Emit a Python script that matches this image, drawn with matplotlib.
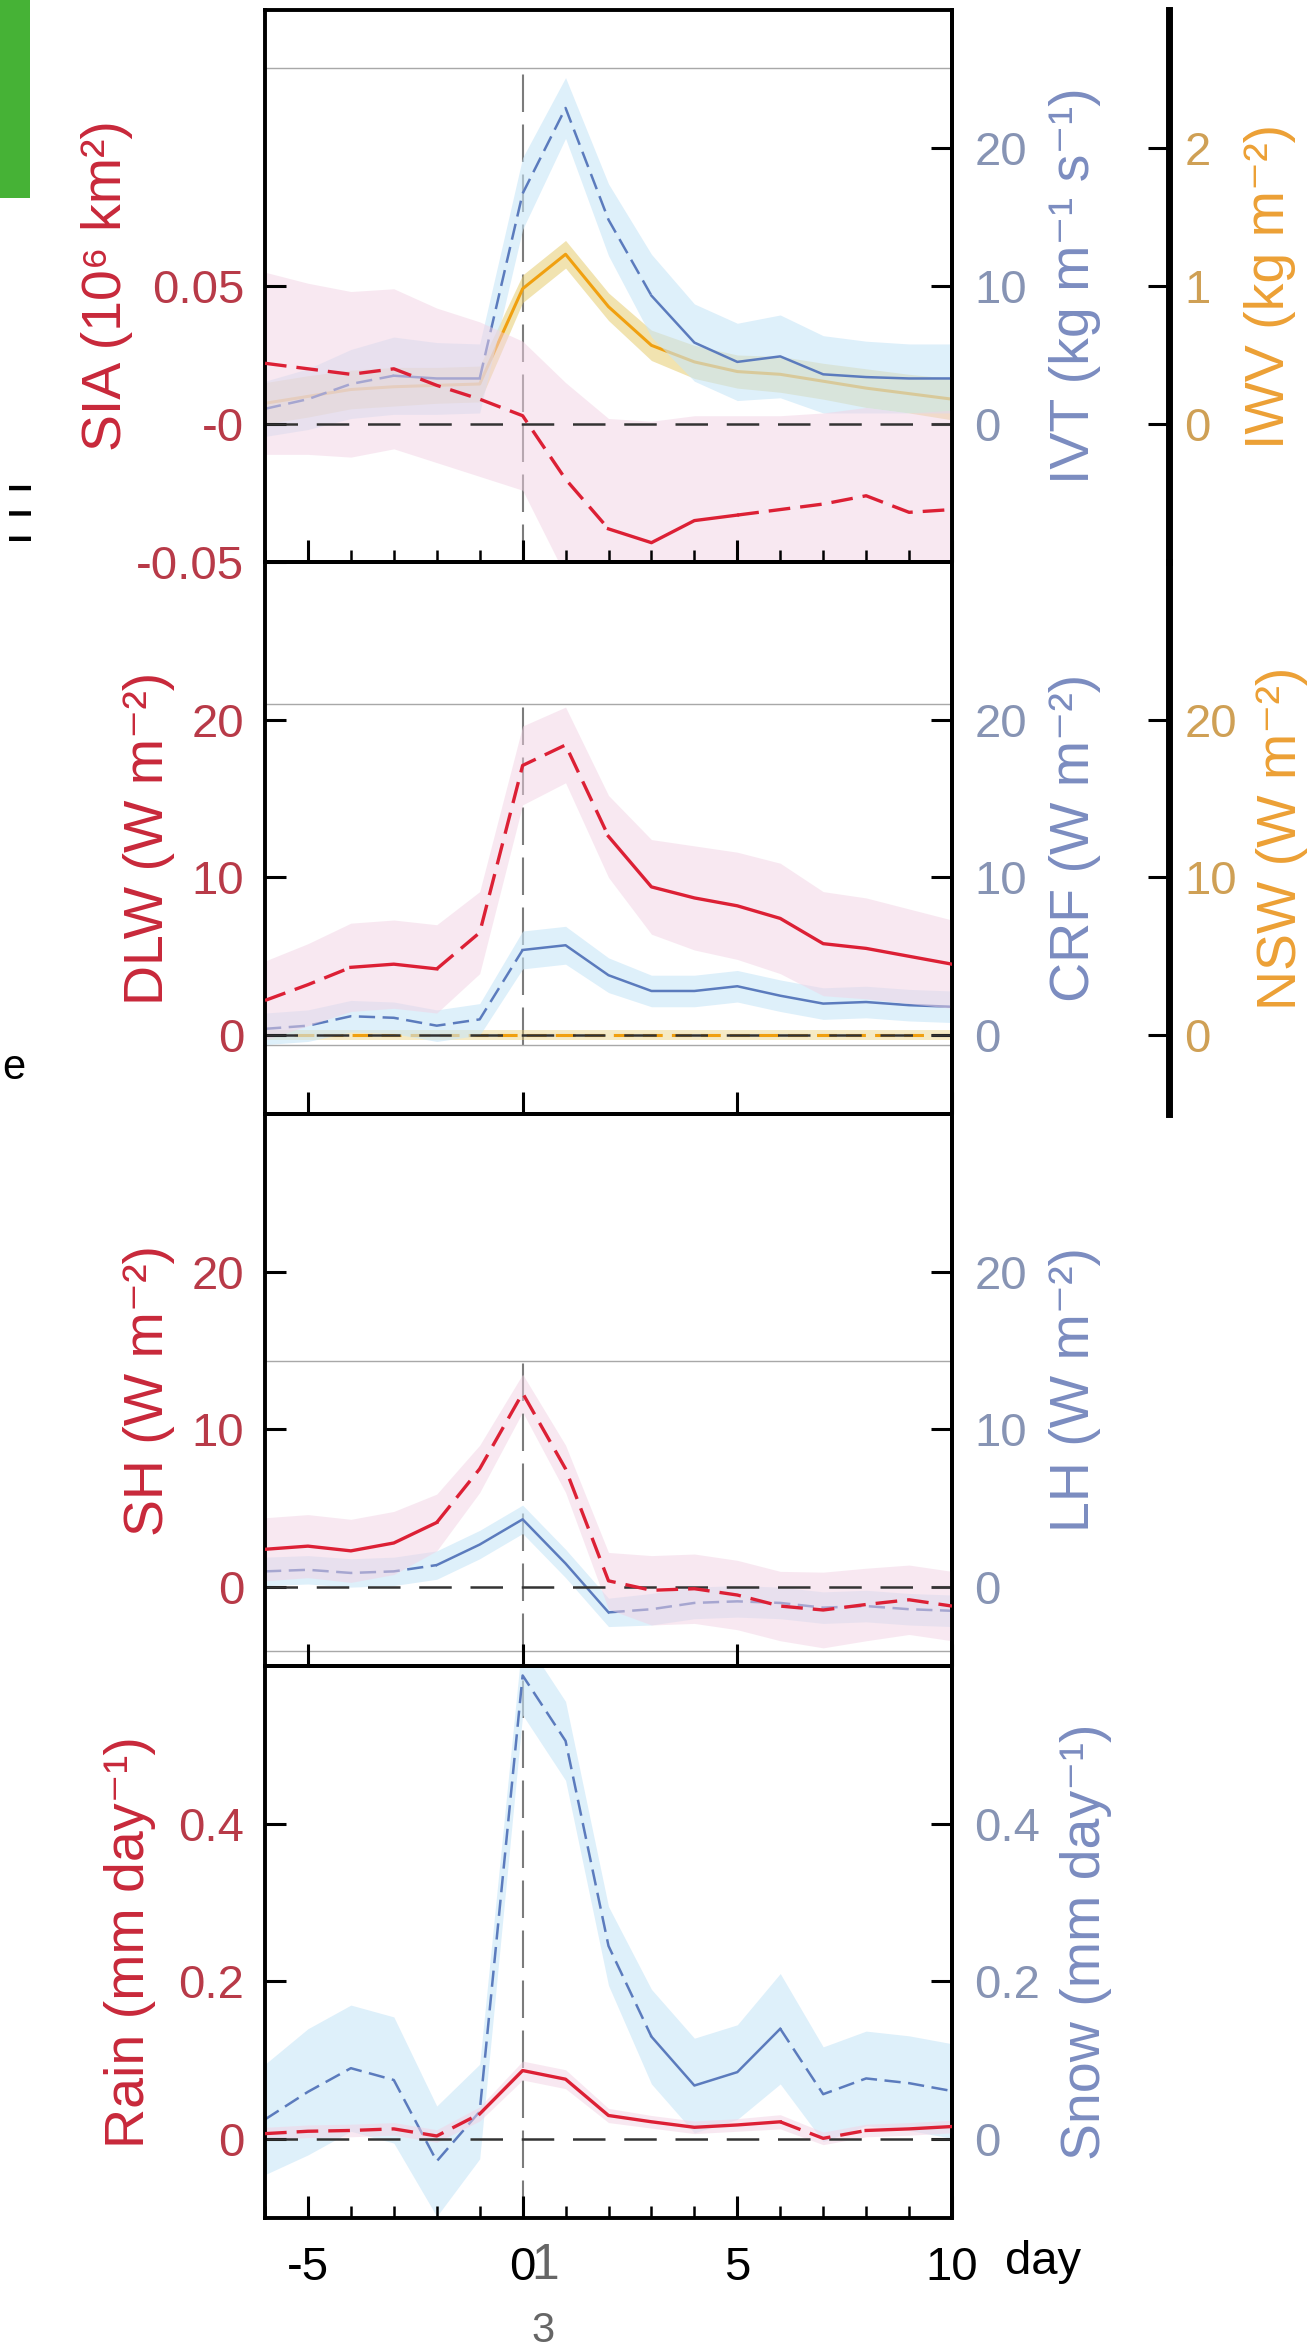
import numpy as np
import matplotlib.pyplot as plt
from matplotlib.patches import Rectangle

plt.rcParams['font.family'] = ['Liberation Sans', 'DejaVu Sans']

days = np.arange(-6, 11)

# panel 1: sea ice area, IVT, IWV
sia = [0.022, 0.020, 0.018, 0.020, 0.014, 0.009, 0.003, -0.020, -0.038, -0.043,
       -0.035, -0.033, -0.031, -0.029, -0.026, -0.032, -0.031]
sia_err = [0.033, 0.031, 0.030, 0.029, 0.028, 0.028, 0.027, 0.035, 0.040, 0.044,
           0.038, 0.036, 0.034, 0.033, 0.032, 0.036, 0.036]
sia_sig = [0, 0, 0, 0, 0, 0, 0, 0, 1, 1, 1, 1, 0, 0, 0, 0, 0]
ivt = [1.1, 1.8, 2.9, 3.5, 3.3, 3.3, 16.7, 22.9, 14.8, 9.3, 5.9, 4.5, 4.9, 3.6, 3.4, 3.3, 3.3]
ivt_err = [2.0, 2.2, 2.5, 2.8, 2.6, 2.5, 2.6, 2.2, 2.6, 3.0, 2.8, 2.8, 3.0, 2.8, 2.6, 2.5, 2.5]
ivt_sig = [0, 0, 0, 1, 1, 1, 0, 0, 0, 1, 1, 1, 1, 1, 1, 1, 1]
iwv = [0.15, 0.20, 0.25, 0.27, 0.28, 0.29, 0.98, 1.23, 0.85, 0.57, 0.45, 0.38, 0.36, 0.31, 0.26, 0.22, 0.18]
iwv_err = [0.15, 0.15, 0.14, 0.14, 0.13, 0.13, 0.10, 0.10, 0.10, 0.11, 0.12, 0.12, 0.13, 0.13, 0.14, 0.14, 0.15]
iwv_sig = [1, 1, 1, 1, 1, 1, 1, 1, 1, 1, 1, 1, 1, 1, 1, 1, 1]

# panel 2: DLW, CRF, NSW
dlw = [2.2, 3.2, 4.3, 4.5, 4.2, 6.5, 17.1, 18.4, 12.6, 9.4, 8.7, 8.2, 7.4, 5.8, 5.5, 5.0, 4.5]
dlw_err = [2.5, 2.6, 2.8, 2.8, 2.8, 2.6, 2.5, 2.4, 2.6, 3.0, 3.3, 3.4, 3.5, 3.3, 3.2, 3.0, 2.8]
dlw_sig = [0, 0, 1, 1, 1, 0, 0, 0, 1, 1, 1, 1, 1, 1, 1, 1, 1]
crf = [0.4, 0.6, 1.2, 1.1, 0.6, 1.0, 5.4, 5.7, 3.8, 2.8, 2.8, 3.1, 2.5, 2.0, 2.1, 1.9, 1.8]
crf_err = [1.0, 1.0, 1.0, 1.0, 1.0, 1.0, 1.2, 1.2, 1.1, 1.0, 1.0, 1.0, 1.0, 1.0, 1.0, 1.0, 1.0]
crf_sig = [0, 0, 0, 0, 0, 0, 1, 1, 1, 1, 1, 1, 1, 1, 1, 1, 1]
nsw = [0.0, 0.0, 0.0, 0.0, 0.0, 0.0, 0.0, 0.0, 0.0, 0.0, 0.0, 0.0, 0.0, 0.0, 0.0, 0.0, 0.0]
nsw_err = [0.3, 0.3, 0.3, 0.3, 0.3, 0.3, 0.3, 0.3, 0.3, 0.3, 0.3, 0.3, 0.3, 0.3, 0.3, 0.3, 0.3]
nsw_sig = [0, 0, 0, 0, 0, 0, 0, 0, 0, 0, 0, 0, 0, 0, 0, 0, 0]

# panel 3: sensible and latent heat
sh = [2.4, 2.6, 2.3, 2.8, 4.1, 7.5, 12.3, 7.5, 0.4, -0.2, -0.1, -0.5, -1.2, -1.45, -1.1, -0.8, -1.2]
sh_err = [2.0, 2.0, 2.0, 2.0, 1.8, 1.5, 1.2, 1.5, 1.8, 2.2, 2.2, 2.2, 2.2, 2.4, 2.3, 2.2, 2.2]
sh_sig = [1, 1, 1, 1, 1, 0, 0, 0, 0, 0, 0, 0, 0, 0, 0, 0, 0]
lh = [1.0, 1.1, 0.9, 1.0, 1.4, 2.7, 4.3, 1.5, -1.6, -1.4, -1.0, -0.9, -1.0, -1.3, -1.2, -1.4, -1.5]
lh_err = [0.9, 0.9, 0.9, 0.9, 0.9, 0.9, 0.9, 0.9, 0.9, 1.0, 1.0, 1.0, 1.0, 1.0, 1.0, 1.0, 1.0]
lh_sig = [0, 0, 0, 0, 1, 1, 1, 1, 1, 0, 0, 0, 0, 0, 0, 0, 0]

# panel 4: rain and snow
rain = [0.007, 0.010, 0.011, 0.013, 0.004, 0.032, 0.087, 0.076, 0.030, 0.022,
        0.015, 0.018, 0.022, 0.001, 0.011, 0.013, 0.016]
rain_err = [0.008, 0.008, 0.008, 0.008, 0.008, 0.009, 0.012, 0.012, 0.009, 0.008,
            0.008, 0.008, 0.009, 0.008, 0.008, 0.008, 0.008]
rain_sig = [0, 0, 0, 0, 0, 1, 1, 1, 1, 1, 1, 1, 1, 0, 1, 1, 1]
snow = [0.025, 0.060, 0.090, 0.075, -0.028, 0.035, 0.588, 0.505, 0.245, 0.130,
        0.068, 0.085, 0.140, 0.057, 0.077, 0.071, 0.061]
snow_err = [0.07, 0.08, 0.08, 0.08, 0.07, 0.06, 0.05, 0.05, 0.05, 0.06, 0.06, 0.06, 0.07, 0.06, 0.06, 0.06, 0.06]
snow_sig = [0, 0, 0, 0, 0, 0, 0, 0, 0, 1, 1, 1, 1, 0, 0, 0, 0]

x_ticks = [-5, 0, 5, 10]
x_ticklabels = ['-5', '0', '5', '10']

RED, RED_TXT, RED_TICK = '#dc2035', '#c8283a', '#b83a48'
BLUE, BLUE_TXT, BLUE_TICK = '#5b7bbd', '#7b8cc0', '#8794b4'
ORANGE, ORANGE_TXT, ORANGE_TICK = '#f0a010', '#eca035', '#cfa055'
PINK_BAND, BLUE_BAND, GOLD_BAND = '#f2d2e4', '#c8e6f8', '#e6cc70'

W, H = 1308, 2351
fig = plt.figure(figsize=(W / 100, H / 100), dpi=100)

AX_L, AX_R = 265, 952
TOP, PANEL = 10, 552
THIRD_POS = (1169 - AX_L) / (AX_R - AX_L)
TICK_FS, LABEL_FS = 34, 40


def panel_rect(i, top_frac=1.0, bottom_frac=0.0):
    bottom_px = TOP + PANEL * (i + 1)
    y0 = 1 - bottom_px / H
    h = PANEL / H
    return [AX_L / W, y0 + bottom_frac * h, (AX_R - AX_L) / W, (top_frac - bottom_frac) * h]


def add_series(ax, y, err, sig, color, band, alpha, lw):
    y = np.asarray(y, float)
    err = np.asarray(err, float)
    ax.fill_between(days, y - err, y + err, color=band, alpha=alpha, lw=0, zorder=1)
    sig = np.asarray(sig, bool)
    solid = sig[:-1] & sig[1:]
    start = 0
    for i in range(1, len(solid) + 1):
        if i == len(solid) or solid[i] != solid[start]:
            ls = '-' if solid[start] else (0, (6.5, 3))
            ax.plot(days[start:i + 1], y[start:i + 1], color=color, lw=lw, ls=ls, zorder=3)
            start = i


def style_y(ax, side, ylim, ticks, labels, label, txt_color, tick_color, labelpad, pad):
    ax.set_ylim(*ylim)
    ax.set_yticks(ticks)
    ax.set_yticklabels(labels)
    ax.tick_params(axis='y', direction='in', length=15, width=2.2, labelsize=TICK_FS,
                   labelcolor=tick_color, pad=pad)
    ax.set_ylabel(label, color=txt_color, fontsize=LABEL_FS, labelpad=labelpad)
    if side == 'right':
        ax.yaxis.set_label_position('right')


def frame_box(i, top_frac, bottom_frac):
    box = fig.add_axes(panel_rect(i, top_frac, bottom_frac), zorder=0.5)
    box.patch.set_visible(False)
    box.set_xlim(-6, 10)
    box.set_ylim(0, 1)
    box.set_xticks([])
    box.set_yticks([])
    for s in ['left', 'right']:
        box.spines[s].set_visible(False)
    for s in ['top', 'bottom']:
        box.spines[s].set_color('#a8a8a8')
        box.spines[s].set_linewidth(1.0)
    box.axvline(0, color='#7c7c7c', lw=1.5, ls=(0, (18, 6)))


def make_panel(i, minor):
    ax = fig.add_axes(panel_rect(i), zorder=3)
    ax.patch.set_visible(False)
    ax.set_xlim(-6, 10)
    ax.set_xticks(x_ticks)
    if minor:
        ax.set_xticks(days, minor=True)
    ax.tick_params(axis='x', which='major', direction='in', length=16, width=2.2,
                   top=False, labelbottom=False)
    ax.tick_params(axis='x', which='minor', direction='in', length=9, width=1.8, top=False)
    for s in ax.spines.values():
        s.set_linewidth(2.8)
    ax.axhline(0, color='#333333', lw=1.8, ls=(0, (13, 7.5)), zorder=2)
    axr = ax.twinx()
    axr.set_zorder(2)
    for s in ['left', 'top', 'bottom']:
        axr.spines[s].set_visible(False)
    axr.spines['right'].set_linewidth(2.8)
    return ax, axr


def make_third(ax):
    ax3 = ax.twinx()
    ax3.set_zorder(1)
    ax3.spines['right'].set_position(('axes', THIRD_POS))
    ax3.spines['right'].set_linewidth(5)
    for s in ['left', 'top', 'bottom']:
        ax3.spines[s].set_visible(False)
    return ax3


# panel 1
frame_box(0, 0.895, 0.0)
ax1, ax1r = make_panel(0, True)
ax1c = make_third(ax1)
add_series(ax1c, iwv, iwv_err, iwv_sig, ORANGE, GOLD_BAND, 0.55, 2.2)
add_series(ax1r, ivt, ivt_err, ivt_sig, BLUE, BLUE_BAND, 0.6, 1.8)
add_series(ax1, sia, sia_err, sia_sig, RED, PINK_BAND, 0.5, 2.4)
style_y(ax1, 'left', (-0.05, 0.15), [-0.05, 0, 0.05], ['-0.05', '-0', '0.05'],
        'SIA (10⁶ km²)', RED_TXT, RED_TICK, 2, 15)
style_y(ax1r, 'right', (-10, 30), [0, 10, 20], ['0', '10', '20'],
        'IVT (kg m⁻¹ s⁻¹)', BLUE_TXT, BLUE_TICK, 16, 16)
style_y(ax1c, 'right', (-1, 3), [0, 1, 2], ['0', '1', '2'],
        'IWV (kg m⁻²)', ORANGE_TXT, ORANGE_TICK, 24, 11)

# panel 2
frame_box(1, 0.742, 0.125)
ax2, ax2r = make_panel(1, False)
ax2c = make_third(ax2)
add_series(ax2c, nsw, nsw_err, nsw_sig, ORANGE, GOLD_BAND, 0.4, 2.2)
add_series(ax2r, crf, crf_err, crf_sig, BLUE, BLUE_BAND, 0.6, 1.8)
add_series(ax2, dlw, dlw_err, dlw_sig, RED, PINK_BAND, 0.5, 2.4)
style_y(ax2, 'left', (-5, 30), [0, 10, 20], ['0', '10', '20'],
        'DLW (W m⁻²)', RED_TXT, RED_TICK, 12, 15)
style_y(ax2r, 'right', (-5, 30), [0, 10, 20], ['0', '10', '20'],
        'CRF (W m⁻²)', BLUE_TXT, BLUE_TICK, 16, 16)
style_y(ax2c, 'right', (-5, 30), [0, 10, 20], ['0', '10', '20'],
        'NSW (W m⁻²)', ORANGE_TXT, ORANGE_TICK, 14, 11)

# panel 3
frame_box(2, 0.552, 0.027)
ax3, ax3r = make_panel(2, False)
add_series(ax3r, lh, lh_err, lh_sig, BLUE, BLUE_BAND, 0.6, 1.8)
add_series(ax3, sh, sh_err, sh_sig, RED, PINK_BAND, 0.5, 2.4)
style_y(ax3, 'left', (-5, 30), [0, 10, 20], ['0', '10', '20'],
        'SH (W m⁻²)', RED_TXT, RED_TICK, 12, 15)
style_y(ax3r, 'right', (-5, 30), [0, 10, 20], ['0', '10', '20'],
        'LH (W m⁻²)', BLUE_TXT, BLUE_TICK, 16, 16)

# panel 4
frame_box(3, 1.0, 0.0)
ax4, ax4r = make_panel(3, True)
add_series(ax4r, snow, snow_err, snow_sig, BLUE, BLUE_BAND, 0.6, 1.8)
add_series(ax4, rain, rain_err, rain_sig, RED, PINK_BAND, 0.5, 2.4)
style_y(ax4, 'left', (-0.1, 0.6), [0, 0.2, 0.4], ['0', '0.2', '0.4'],
        'Rain (mm day⁻¹)', RED_TXT, RED_TICK, 16, 15)
style_y(ax4r, 'right', (-0.1, 0.6), [0, 0.2, 0.4], ['0', '0.2', '0.4'],
        'Snow (mm day⁻¹)', BLUE_TXT, BLUE_TICK, 14, 16)
ax4.set_xticklabels(x_ticklabels)
ax4.tick_params(axis='x', which='major', labelbottom=True, labelsize=TICK_FS, pad=20)

fig.text(1005 / W, 1 - 2262 / H, 'day', fontsize=TICK_FS, ha='left', va='center')
fig.text(545 / W, 1 - 2266 / H, '1', fontsize=36, color='#666666', ha='center', va='center')
fig.text(543 / W, 1 - 2331 / H, '3', fontsize=30, color='#666666', ha='center', va='center')

fig.add_artist(Rectangle((0, 1 - 198 / H), 30 / W, 198 / H, transform=fig.transFigure,
                         facecolor='#46b236', edgecolor='none'))
fig.text(14 / W, 1 - 1068 / H, 'e', fontsize=30, ha='center', va='center')
fig.text(24 / W, 1 - 512 / H, 'I  I  I', rotation=90, fontsize=22, fontweight='bold',
         ha='center', va='center')

fig.savefig('out.png', dpi=100)
